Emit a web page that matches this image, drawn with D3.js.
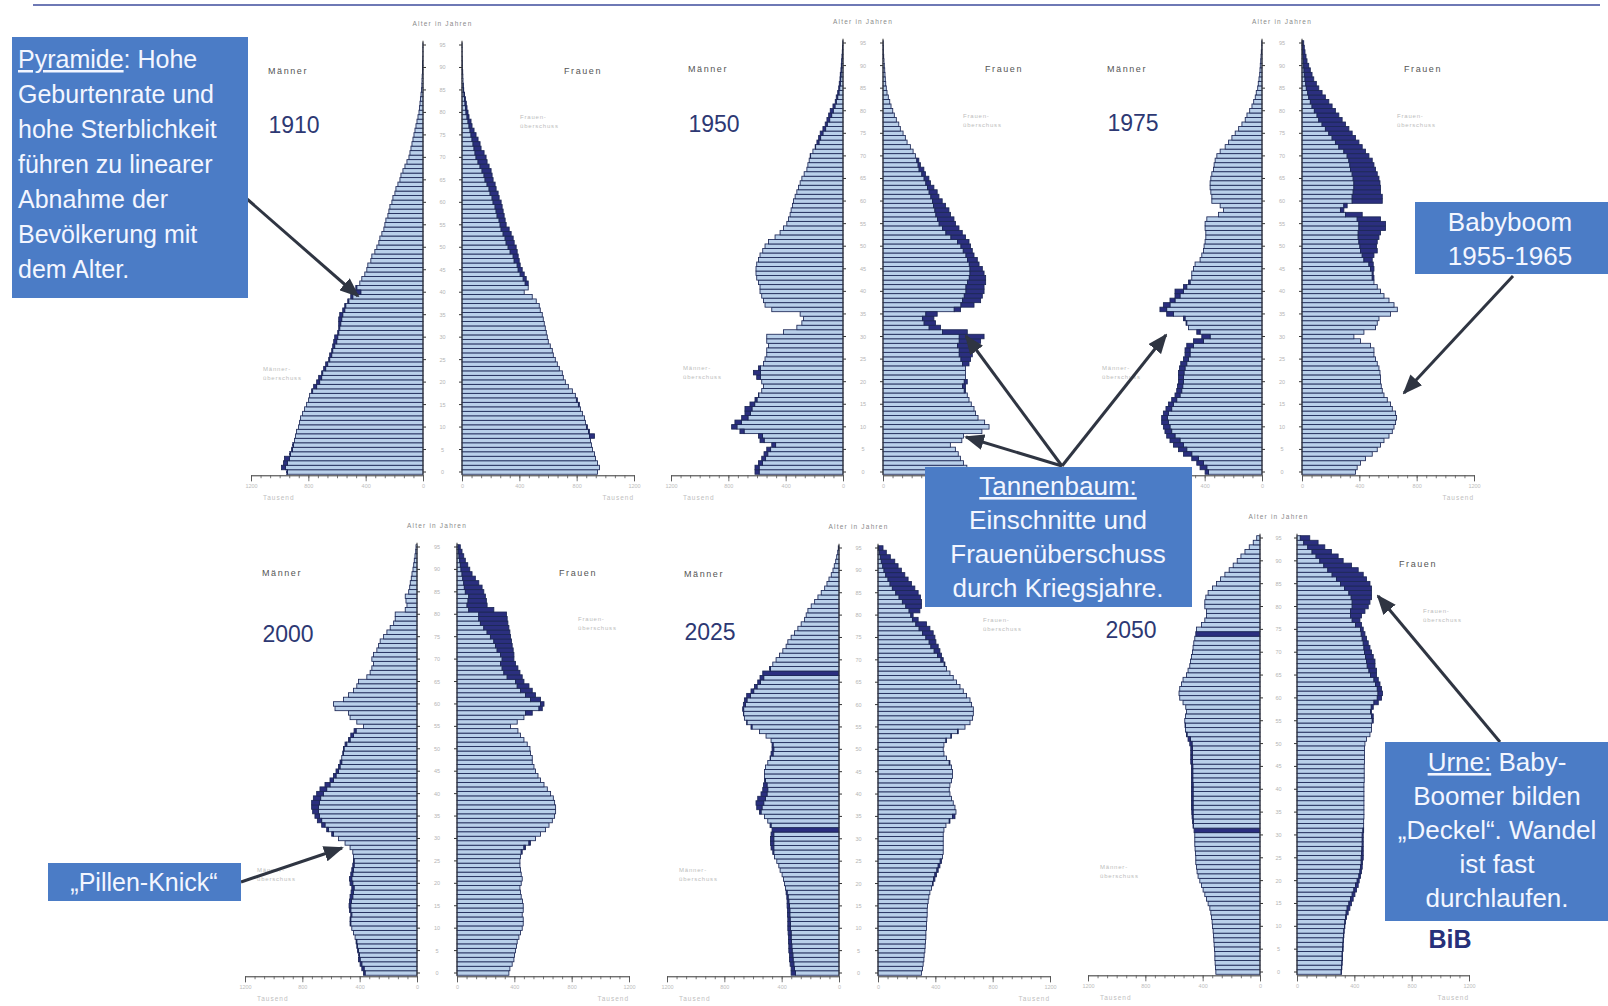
<!DOCTYPE html>
<html>
<head>
<meta charset="utf-8">
<script src="https://cdn.jsdelivr.net/npm/d3@7"></script>
<style>
  body { margin: 0; background: #fff; }
  svg { display: block; }
  text { font-family: 'Liberation Sans', Arial, sans-serif; }
</style>
</head>
<body>
<div id="chart"></div>
<script>
// Bevoelkerung nach Alter (0..95 Jahre), Werte in Tausend
var ages = d3.range(0, 96);
var years = ['1910', '1950', '1975', '2000', '2025', '2050'];

var men1910 = [952,987,973,966,931,917,910,896,889,882, 868,861,854,840,826,812,798,791,777,763,
  742,728,707,693,679,658,651,637,630,623, 616,595,588,588,588,581,560,546,525,504,
  483,469,441,427,406,392,385,364,357,336, 322,308,301,287,273,266,259,245,238,231,
  217,210,196,189,175,161,154,140,126,112, 98,91,84,77,70,63,56,49,42,35,
  28,25,21,18,14,11,8,7,6,4, 4,3,2,1,1,1];
var women1910 = [945,959,945,931,924,910,903,896,924,889, 875,861,854,840,826,819,805,791,770,742,
  721,707,700,679,665,651,637,630,616,602, 595,588,581,574,567,560,546,539,518,490,
  434,462,462,448,434,420,406,399,392,385, 378,364,357,343,329,308,301,294,287,280,
  273,259,252,238,231,217,210,203,189,175, 168,154,133,126,112,98,84,70,63,49,
  42,35,30,24,18,12,9,7,6,5, 4,3,2,1,1,1];

var men1950 = [614,614,590,567,551,532,497,579,590,719, 777,754,707,684,684,649,614,590,567,555,
  567,602,625,590,555,544,532,532,520,532, 532,415,322,287,275,299,497,544,555,567,
  579,579,590,602,607,607,602,590,579,560, 544,520,474,439,415,392,380,369,362,352,
  345,334,322,310,299,287,271,252,245,236, 229,210,194,182,170,159,140,124,112,100,
  89,70,54,47,37,30,26,21,19,14, 12,9,7,5,4,2];
var women1950 = [585,585,562,540,525,505,470,550,562,690, 740,709,663,646,635,616,600,588,576,576,
  588,576,576,576,600,611,623,635,635,681, 705,588,401,366,355,378,541,635,681,693,
  705,705,716,716,705,693,670,658,635,623, 611,600,576,553,530,506,495,471,460,436,
  413,390,378,355,331,320,296,285,261,250, 226,210,191,168,156,140,121,110,93,79,
  68,56,47,37,28,23,19,16,14,12, 9,7,5,4,3,2];

var men1975 = [397,432,455,490,548,583,618,642,665,677, 688,700,700,688,670,653,630,607,595,590,
  583,583,583,576,567,548,537,537,525,478, 420,455,513,530,548,665,712,688,642,607,
  607,548,513,490,490,478,467,432,420,408, 404,397,392,392,397,397,385,303,268,292,
  350,350,357,362,362,357,350,338,334,327, 315,292,257,233,210,187,163,140,117,105,
  86,70,58,47,40,30,26,21,16,14, 12,9,7,5,2,2];
var women1975 = [373,385,408,443,490,525,548,572,607,630, 642,653,660,653,630,618,595,572,560,553,
  548,548,544,537,525,513,502,502,478,408, 362,432,513,525,537,618,665,642,607,572,
  548,525,502,502,497,502,497,490,502,525, 520,525,537,548,583,583,548,420,292,315,
  560,560,548,548,544,537,525,513,502,490, 467,443,420,397,373,350,327,303,280,257,
  233,210,187,163,140,117,100,82,70,58, 47,35,28,21,16,12];

var men2000 = [373,385,397,408,408,415,420,425,432,443, 455,467,467,462,471,474,471,467,460,455,
  467,471,462,455,448,443,443,448,467,502, 548,595,630,665,695,712,728,735,735,723,
  700,677,642,607,583,565,548,537,525,518, 513,502,478,462,439,373,420,467,478,572,
  583,513,478,443,420,408,350,327,315,303, 315,303,280,268,257,233,210,187,163,152,
  152,82,70,77,82,58,51,47,40,35, 28,23,19,14,9,7];
var women2000 = [362,369,385,397,401,408,415,420,432,443, 455,462,462,455,462,462,457,448,443,439,
  448,455,448,443,439,439,443,455,478,513, 548,583,618,642,665,681,688,688,681,672,
  653,630,607,583,565,548,537,525,525,513, 509,490,467,443,425,373,420,467,525,595,
  607,583,548,525,502,467,455,439,425,408, 397,397,392,385,380,373,369,362,355,350,
  345,257,210,205,198,187,175,152,128,105, 89,75,58,47,35,23];

var men2025 = [334,334,341,345,345,350,350,352,352,355, 357,357,357,359,359,362,362,364,369,373,
  380,387,397,411,420,434,450,462,474,478, 478,474,467,481,497,520,555,574,579,567,
  544,532,527,520,520,520,513,497,481,474, 467,467,474,509,555,614,644,660,667,672,
  667,660,644,614,590,567,551,532,485,462, 439,415,392,369,357,334,310,287,264,240,
  229,217,194,170,147,124,100,84,70,54, 42,33,23,16,9,5];
var women2025 = [303,310,315,320,322,327,329,331,334,334, 338,338,341,343,343,345,350,355,362,373,
  385,397,408,420,432,443,450,455,455,455, 455,455,460,474,502,537,544,537,525,513,
  502,497,502,513,520,520,513,502,478,460, 455,460,478,513,560,607,642,660,665,665,
  653,642,618,595,572,548,525,502,478,467, 455,443,432,420,404,397,385,362,338,280,
  245,292,303,303,296,280,257,233,210,187, 163,140,117,86,58,35];

var men2050 = [308,310,313,315,315,317,320,322,324,327, 331,334,338,343,350,362,373,385,397,408,
  420,432,439,443,448,448,450,453,455,455, 455,460,467,471,474,476,478,478,478,478,
  478,478,478,478,478,478,483,483,483,483, 490,502,513,520,523,525,520,513,518,537,
  560,565,560,548,537,513,502,490,485,478, 471,467,462,455,448,443,408,385,373,373,
  385,385,378,362,331,303,275,245,215,187, 159,133,105,75,47,23];
var women2050 = [310,313,315,317,317,322,322,324,327,329, 334,338,345,357,369,380,392,404,415,427,
  434,443,450,455,457,462,462,462,462,462, 462,465,465,465,467,467,467,467,467,467,
  467,467,469,469,469,469,471,471,471,471, 474,485,509,520,520,532,532,520,532,567,
  590,597,590,579,567,555,555,544,544,532, 520,509,497,485,474,462,450,439,450,474,
  497,509,520,520,520,509,485,462,427,380, 322,287,240,194,147,89];

// hervorgehobene Jahrgaenge (Maenner)
var marked2025 = [67, 32];
var marked2050 = [74, 31];

var xTicks = [0, 400, 800, 1200];

// ---- layout ----
var width = 1608, height = 1006;
var axisLen = 172;
var panels = [
  {year: years[0], men: men1910, women: women1910, mark: [], maleX: 423, femX: 462, y0: 472, y95: 45, yearY: 133, fDx: 58},
  {year: years[1], men: men1950, women: women1950, mark: [], maleX: 843, femX: 883, y0: 472, y95: 43, yearY: 132, fDx: 80},
  {year: years[2], men: men1975, women: women1975, mark: [], maleX: 1262, femX: 1302, y0: 472, y95: 43, yearY: 131, fDx: 95},
  {year: years[3], men: men2000, women: women2000, mark: [], maleX: 417, femX: 457, y0: 973, y95: 547, yearY: 642, fDx: 121},
  {year: years[4], men: men2025, women: women2025, mark: marked2025, maleX: 839, femX: 878, y0: 973, y95: 548, yearY: 640, fDx: 105},
  {year: years[5], men: men2050, women: women2050, mark: marked2050, maleX: 1260, femX: 1297, y0: 972, y95: 538, yearY: 638, fDx: 126}
];

var lightBlue = '#b9d0ea', darkBlue = '#2b2f7f', edge = '#1c2756';
var boxBlue = '#4b7cc6';

var svg = d3.select('#chart').append('svg')
    .attr('width', width)
    .attr('height', height);

svg.append('rect').attr('width', width).attr('height', height).attr('fill', '#fff');

svg.append('line')
    .attr('x1', 33).attr('x2', 1600)
    .attr('y1', 5).attr('y2', 5)
    .attr('stroke', '#3e4d9c')
    .attr('stroke-width', 1.5);

function drawPyramid(p) {
    var g = svg.append('g').attr('class', 'pyramid');
    var bh = (p.y0 - p.y95) / 95;
    var y = d3.scaleBand().domain(ages).range([p.y0 + bh / 2, p.y95 - bh / 2]);
    var xM = d3.scaleLinear().domain([0, 1200]).range([p.maleX, p.maleX - axisLen]);
    var xF = d3.scaleLinear().domain([0, 1200]).range([p.femX, p.femX + axisLen]);

    var rows = ages.map(function(a) {
        return {age: a, m: p.men[a], f: p.women[a], lo: Math.min(p.men[a], p.women[a]),
                mark: p.mark.indexOf(a) >= 0};
    });

    var bars = g.append('g')
        .attr('stroke', edge)
        .attr('stroke-width', 0.85);

    // Maenner, gemeinsamer Teil
    bars.selectAll('.mLight').data(rows).enter().append('rect')
        .attr('class', 'mLight')
        .attr('x', d => xM(d.mark ? d.m : d.lo))
        .attr('y', d => y(d.age))
        .attr('width', d => xM(0) - xM(d.mark ? d.m : d.lo))
        .attr('height', y.bandwidth())
        .attr('fill', d => d.mark ? darkBlue : lightBlue);
    // Maennerueberschuss
    bars.selectAll('.mDark').data(rows.filter(d => d.m > d.f && !d.mark)).enter().append('rect')
        .attr('class', 'mDark')
        .attr('x', d => xM(d.m))
        .attr('y', d => y(d.age))
        .attr('width', d => xM(d.lo) - xM(d.m))
        .attr('height', y.bandwidth())
        .attr('fill', darkBlue);
    // Frauen, gemeinsamer Teil
    bars.selectAll('.fLight').data(rows).enter().append('rect')
        .attr('class', 'fLight')
        .attr('x', xF(0))
        .attr('y', d => y(d.age))
        .attr('width', d => xF(d.lo) - xF(0))
        .attr('height', y.bandwidth())
        .attr('fill', lightBlue);
    // Frauenueberschuss
    bars.selectAll('.fDark').data(rows.filter(d => d.f > d.m)).enter().append('rect')
        .attr('class', 'fDark')
        .attr('x', d => xF(d.lo))
        .attr('y', d => y(d.age))
        .attr('width', d => xF(d.f) - xF(d.lo))
        .attr('height', y.bandwidth())
        .attr('fill', darkBlue);

    // Altersachsen in der Mitte
    var top = p.y95 - bh / 2 - 2, bottom = p.y0 + bh / 2 + 1;
    [p.maleX, p.femX].forEach(function(x) {
        g.append('line').attr('x1', x).attr('x2', x).attr('y1', top).attr('y2', bottom)
            .attr('stroke', '#333').attr('stroke-width', 1);
    });
    var ageTicks = ages.filter(a => a % 5 === 0);
    g.selectAll('.ageTick').data(ageTicks).enter().append('path')
        .attr('d', a => {
            var yy = y(a) + y.bandwidth() / 2;
            return 'M' + p.maleX + ',' + yy + 'h3M' + p.femX + ',' + yy + 'h-3';
        })
        .attr('stroke', '#333');
    g.selectAll('.ageLabel').data(ageTicks).enter().append('text')
        .attr('x', (p.maleX + p.femX) / 2)
        .attr('y', a => y(a) + y.bandwidth() / 2 + 2)
        .attr('text-anchor', 'middle')
        .attr('font-size', 5.5)
        .attr('fill', '#b5b5b5')
        .text(a => a);

    // Tausend-Achsen unten
    [xM, xF].forEach(function(sc) {
        var minor = g.append('g').attr('transform', 'translate(0,' + bottom + ')')
            .call(d3.axisBottom(sc).tickValues(d3.range(0, 1200.1, 1200 / 18)).tickSize(3).tickFormat(''));
        var major = g.append('g').attr('transform', 'translate(0,' + bottom + ')')
            .call(d3.axisBottom(sc).tickValues(xTicks).tickSize(6).tickPadding(3).tickFormat(d3.format('d')));
        [minor, major].forEach(function(ax) {
            ax.selectAll('path, line').attr('stroke', '#555').attr('stroke-width', 0.8);
            ax.selectAll('text').attr('font-size', 5.5).attr('fill', '#bcbcbc');
        });
    });
    g.append('text').attr('x', p.maleX - 160).attr('y', bottom + 25)
        .attr('font-size', 6.5).attr('fill', '#c0c0c0').attr('letter-spacing', 1).text('Tausend');
    g.append('text').attr('x', p.femX + 172).attr('y', bottom + 25).attr('text-anchor', 'end')
        .attr('font-size', 6.5).attr('fill', '#c0c0c0').attr('letter-spacing', 1).text('Tausend');

    // Beschriftungen
    g.append('text').attr('x', (p.maleX + p.femX) / 2).attr('y', p.y95 - 19)
        .attr('text-anchor', 'middle').attr('font-size', 6.5).attr('letter-spacing', 1.2)
        .attr('fill', '#8a8a8a').text('Alter in Jahren');
    g.append('text').attr('x', p.maleX - 135).attr('y', p.y95 + 29)
        .attr('text-anchor', 'middle').attr('font-size', 9).attr('letter-spacing', 1.6)
        .attr('fill', '#555').text('Männer');
    g.append('text').attr('x', p.femX + 121).attr('y', p.y95 + 29)
        .attr('text-anchor', 'middle').attr('font-size', 9).attr('letter-spacing', 1.6)
        .attr('fill', '#555').text('Frauen');
    g.append('text').attr('x', p.maleX - 129).attr('y', p.yearY)
        .attr('text-anchor', 'middle').attr('font-size', 23)
        .attr('fill', '#2d3873').text(p.year);

    var mLab = g.append('text').attr('x', p.maleX - 160).attr('y', y(22))
        .attr('font-size', 6).attr('letter-spacing', 0.8).attr('fill', '#bdbdbd');
    mLab.append('tspan').attr('x', p.maleX - 160).text('Männer-');
    mLab.append('tspan').attr('x', p.maleX - 160).attr('dy', 9).text('überschuss');
    var fLab = g.append('text').attr('x', p.femX + p.fDx).attr('y', y(78))
        .attr('font-size', 6).attr('letter-spacing', 0.8).attr('fill', '#bdbdbd');
    fLab.append('tspan').attr('x', p.femX + p.fDx).text('Frauen-');
    fLab.append('tspan').attr('x', p.femX + p.fDx).attr('dy', 9).text('überschuss');
}

panels.forEach(drawPyramid);

// ---- Pfeile ----
var defs = svg.append('defs');
defs.append('marker')
    .attr('id', 'head')
    .attr('markerUnits', 'userSpaceOnUse')
    .attr('viewBox', '0 0 20 16')
    .attr('markerWidth', 20).attr('markerHeight', 16)
    .attr('refX', 18).attr('refY', 8)
    .attr('orient', 'auto')
  .append('path')
    .attr('d', 'M0,0 L20,8 L0,16 Z')
    .attr('fill', '#2f3542');

var arrows = [
    [247, 199, 358, 296],
    [1062, 466, 966, 336],
    [1062, 466, 966, 437],
    [1062, 466, 1166, 335],
    [1513, 276, 1404, 393],
    [241, 882, 342, 848],
    [1500, 742, 1378, 596]
];
svg.selectAll('.arrow').data(arrows).enter().append('line')
    .attr('class', 'arrow')
    .attr('x1', d => d[0]).attr('y1', d => d[1])
    .attr('x2', d => d[2]).attr('y2', d => d[3])
    .attr('stroke', '#2f3542')
    .attr('stroke-width', 3)
    .attr('marker-end', 'url(#head)');

// ---- Textkaesten ----
var notes = [
    {x: 12, y: 37, w: 236, h: 261, tx: 18, ty: 68, lh: 35, size: 25, anchor: 'start',
     lines: [[['Pyramide', true], [': Hohe', false]], [['Geburtenrate und', false]],
             [['hohe Sterblichkeit', false]], [['führen zu linearer', false]],
             [['Abnahme der', false]], [['Bevölkerung mit', false]], [['dem Alter.', false]]]},
    {x: 925, y: 467, w: 267, h: 140, tx: 1058, ty: 495, lh: 34, size: 26, anchor: 'middle',
     lines: [[['Tannenbaum:', true]], [['Einschnitte und', false]],
             [['Frauenüberschuss', false]], [['durch Kriegsjahre.', false]]]},
    {x: 1415, y: 202, w: 193, h: 72, tx: 1510, ty: 231, lh: 34, size: 26, anchor: 'middle',
     lines: [[['Babyboom', false]], [['1955-1965', false]]]},
    {x: 48, y: 863, w: 193, h: 38, tx: 144, ty: 891, lh: 34, size: 25, anchor: 'middle',
     lines: [[['\u201EPillen-Knick\u201C', false]]]},
    {x: 1385, y: 742, w: 223, h: 179, tx: 1497, ty: 771, lh: 34, size: 26, anchor: 'middle',
     lines: [[['Urne:', true], [' Baby-', false]], [['Boomer bilden', false]],
             [['\u201EDeckel\u201C. Wandel', false]], [['ist fast', false]], [['durchlaufen.', false]]]}
];

// Beschriftungen, die von einem Kasten verdeckt werden, entfallen (wie im Original)
var svgBox = svg.node().getBoundingClientRect();
svg.selectAll('.pyramid text').each(function() {
    var r = this.getBoundingClientRect();
    var bx = r.left - svgBox.left, by = r.top - svgBox.top;
    var hidden = notes.some(n => bx < n.x + n.w && bx + r.width > n.x &&
                                 by < n.y + n.h && by + r.height > n.y);
    if (hidden) d3.select(this).remove();
});

notes.forEach(function(n) {
    var g = svg.append('g').attr('class', 'note');
    g.append('rect').attr('x', n.x).attr('y', n.y).attr('width', n.w).attr('height', n.h)
        .attr('fill', boxBlue);
    n.lines.forEach(function(parts, i) {
        var t = g.append('text')
            .attr('x', n.tx).attr('y', n.ty + i * n.lh)
            .attr('text-anchor', n.anchor)
            .attr('font-size', n.size)
            .attr('fill', '#f3f6ff');
        parts.forEach(function(pt) {
            t.append('tspan').text(pt[0])
                .style('text-decoration', pt[1] ? 'underline' : 'none');
        });
    });
});

svg.append('text')
    .attr('x', 1450).attr('y', 948)
    .attr('text-anchor', 'middle')
    .attr('font-size', 25)
    .attr('font-weight', 'bold')
    .attr('fill', '#27307a')
    .text('BiB');
</script>
</body>
</html>
